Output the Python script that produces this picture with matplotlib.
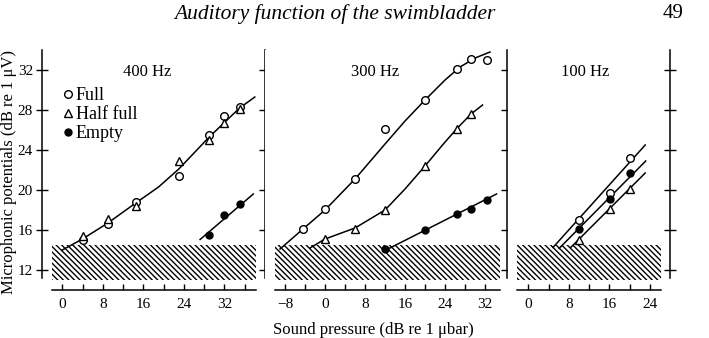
import matplotlib
matplotlib.use("Agg")
import matplotlib.pyplot as plt
from matplotlib.lines import Line2D

plt.rcParams["font.family"] = ["Liberation Serif", "DejaVu Serif"]
plt.rcParams["hatch.linewidth"] = 1.0

# ---- 400 Hz panel ----
x400 = [4, 9, 14.5, 23, 29, 32, 35]
full400 = [15.0, 16.65, 18.8, 21.4, 25.5, 27.4, 28.3]
half400 = [15.4, 17.1, 18.4, 22.9, 25.0, 26.7, 28.1]
x400_empty = [29, 32, 35]
empty400 = [15.5, 17.5, 18.6]
# hand-drawn fit lines
fit400_x = [0, 4, 9, 14.5, 19, 23, 29, 35, 38]
fit400_y = [14.0, 15.1, 16.7, 18.7, 20.3, 22.1, 25.3, 28.2, 29.3]
fit400_empty_x = [27.2, 37.7]
fit400_empty_y = [15.05, 19.6]

# ---- 300 Hz panel ----
x300_full = [-4.4, 0, 6, 12, 20, 26.3, 29.2, 32.4]
full300 = [16.1, 18.1, 21.1, 26.1, 29.0, 32.1, 33.1, 33.0]
x300_half = [0, 6, 12, 20, 26.3, 29.2]
half300 = [15.1, 16.1, 18.0, 22.45, 26.1, 27.6]
x300_empty = [12, 20, 26.3, 29.2, 32.4]
empty300 = [14.06, 15.98, 17.57, 18.07, 19.03]
fit300_full_x = [-9, -4.4, 0, 6, 12, 16, 20, 24, 27, 30, 33]
fit300_full_y = [14.1, 16.1, 18.0, 21.1, 24.6, 26.9, 29.0, 31.0, 32.3, 33.2, 33.8]
fit300_half_x = [-3, 0, 6, 12, 16, 20, 23.5, 26.3, 29.2, 31.5]
fit300_half_y = [14.2, 15.1, 16.2, 18.0, 20.1, 22.4, 24.5, 26.1, 27.6, 28.5]
fit300_empty_x = [12.2, 34.3]
fit300_empty_y = [14.0, 19.6]

# ---- 100 Hz panel ----
x100 = [10, 16.2, 20.1]
full100 = [17.04, 19.7, 23.2]
half100 = [15.05, 18.1, 20.1]
empty100 = [16.08, 19.07, 21.7]
fit100_full_x = [4.9, 23.1]
fit100_full_y = [14.26, 24.5]
fit100_empty_x = [6.1, 23.2]
fit100_empty_y = [14.16, 22.9]
fit100_half_x = [8.4, 23.1]
fit100_half_y = [14.26, 21.7]

# shaded noise band
band_lo, band_hi = 11.0, 14.5

fig = plt.figure(figsize=(7.09, 3.38), dpi=100)
bottom, height = 0.142, 0.710
ax1 = fig.add_axes([0.0592, bottom, 0.3145, height])
ax2 = fig.add_axes([0.3738, bottom, 0.3413, height])
ax3 = fig.add_axes([0.7165, bottom, 0.2285, height])

open_o = dict(marker="o", ls="none", mfc="white", mec="black", ms=5.5, mew=1.0, zorder=4)
open_t = dict(marker="^", ls="none", mfc="white", mec="black", ms=5.5, mew=1.0, zorder=4)
fill_o = dict(marker="o", ls="none", mfc="black", mec="black", ms=5.0, zorder=4)
fit = dict(color="black", lw=1.1, zorder=3)


def setup(ax, xlim, xbounds, labels, minor, left_labels):
    ax.set_xlim(*xlim)
    ax.set_ylim(10, 34)
    ax.spines["top"].set_visible(False)
    ax.spines["bottom"].set_bounds(*xbounds)
    for s in ["left", "right", "bottom"]:
        ax.spines[s].set_linewidth(1.1)
    ax.spines["left"].set_bounds(11.2, 34)
    ax.spines["right"].set_bounds(11.2, 34)
    if not left_labels:
        ax.spines["left"].set_visible(False)
    ax.set_xticks(labels)
    ax.set_xticklabels([str(v).replace("-", "\u2212") for v in labels])
    ax.set_xticks(minor, minor=True)
    ax.tick_params(axis="x", which="both", direction="in", length=4.5, width=1.0,
                   labelsize=11, pad=6)
    ax.set_yticks([12, 16, 20, 24, 28, 32])
    ax.tick_params(axis="y", direction="inout", length=9, width=1.0,
                   left=left_labels, right=True, labelleft=left_labels,
                   labelright=False, labelsize=11, pad=2)
    ax.fill_between(xbounds, band_lo, band_hi, facecolor="none", edgecolor="black",
                    hatch="\\\\\\\\\\\\", linewidth=0, zorder=1)


setup(ax1, (-4, 40), (-2, 38.2), [0, 8, 16, 24, 32], [4, 12, 20, 28, 36], True)
setup(ax2, (-12, 36.4), (-10, 35), [-8, 0, 8, 16, 24, 32], [-4, 4, 12, 20, 28], False)
setup(ax3, (-4, 28), (-2.2, 26.2), [0, 8, 16, 24], [4, 12, 20], False)

# 400 Hz
ax1.plot(fit400_x, fit400_y, **fit)
ax1.plot(fit400_empty_x, fit400_empty_y, **fit)
ax1.plot(x400, full400, **open_o)
ax1.plot(x400, half400, **open_t)
ax1.plot(x400_empty, empty400, **fill_o)
ax1.text(0.47, 0.91, "400 Hz", transform=ax1.transAxes, ha="center", va="center", fontsize=12)

handles = [Line2D([], [], **{k: v for k, v in open_o.items() if k != "zorder"}),
           Line2D([], [], **{k: v for k, v in open_t.items() if k != "zorder"}),
           Line2D([], [], **{k: v for k, v in fill_o.items() if k != "zorder"})]
ax1.legend(handles, ["Full", "Half full", "Empty"], loc="upper left",
           bbox_to_anchor=(0.095, 0.845), frameon=False, fontsize=13,
           handlelength=0.5, handletextpad=0.2, borderpad=0, borderaxespad=0,
           labelspacing=0.1)

# 300 Hz
ax2.plot(fit300_full_x, fit300_full_y, **fit)
ax2.plot(fit300_half_x, fit300_half_y, **fit)
ax2.plot(fit300_empty_x, fit300_empty_y, **fit)
ax2.plot(x300_full, full300, **open_o)
ax2.plot(x300_half, half300, **open_t)
ax2.plot(x300_empty, empty300, **fill_o)
ax2.text(0.455, 0.91, "300 Hz", transform=ax2.transAxes, ha="center", va="center", fontsize=12)

# 100 Hz
ax3.plot(fit100_full_x, fit100_full_y, **fit)
ax3.plot(fit100_empty_x, fit100_empty_y, **fit)
ax3.plot(fit100_half_x, fit100_half_y, **fit)
ax3.plot(x100, full100, **open_o)
ax3.plot(x100, half100, **open_t)
ax3.plot(x100, empty100, **fill_o)
ax3.text(0.475, 0.91, "100 Hz", transform=ax3.transAxes, ha="center", va="center", fontsize=12)

fig.text(335 / 709, 1 - 14 / 338, "Auditory function of the swimbladder",
         ha="center", va="center", fontsize=15.5, style="italic")
fig.text(663 / 709, 1 - 14 / 338, "49", ha="left", va="center", fontsize=15)
fig.text(373 / 709, 8 / 338, "Sound pressure (dB re 1 \u03bcbar)",
         ha="center", va="center", fontsize=12)
fig.text(9 / 709, 1 - 172 / 338, "Microphonic potentials (dB re 1 \u03bcV)",
         ha="center", va="center", rotation=90, fontsize=12)

fig.savefig("out.png", dpi=100)
